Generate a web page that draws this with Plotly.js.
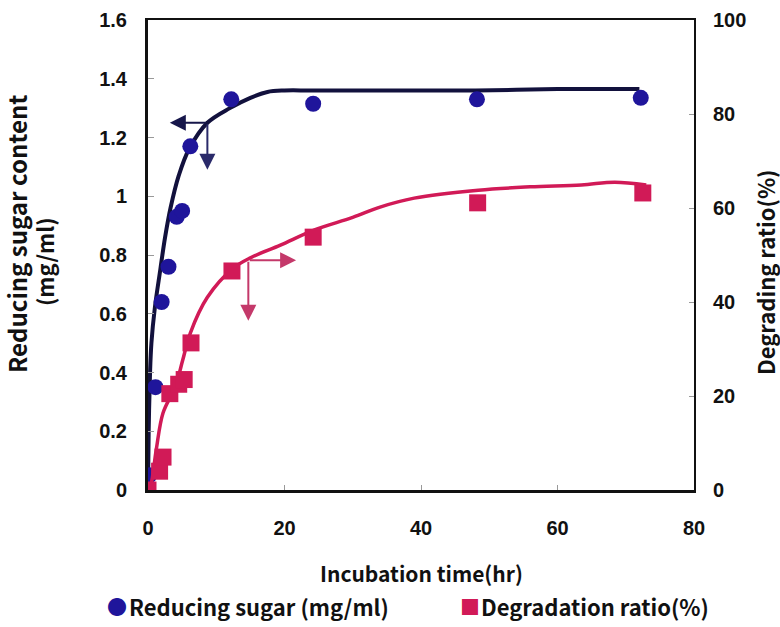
<!DOCTYPE html>
<html>
<head>
<meta charset="utf-8">
<script src="https://cdn.plot.ly/plotly-3.0.1.min.js"></script>
<style>html,body{margin:0;padding:0;background:#fff;}</style>
</head>
<body>
<div id="chart" style="width:780px;height:627px;"></div>
<script>
// Reducing sugar measurements (mg/ml) against incubation time (hr)
const sugarTime  = [0, 0.2, 1.1, 2, 3, 4.2, 5, 6.2, 12.2, 24.2, 48.2, 72.2];
const sugarValue = [0, 0.05, 0.35, 0.64, 0.76, 0.93, 0.95, 1.17, 1.33, 1.315, 1.33, 1.335];

// Fitted curve for reducing sugar
const sugarFitTime  = [0, 0.1, 0.3, 0.5, 1, 1.8, 2.5, 3.3, 4.5, 6, 8.7, 12, 15, 17.5, 20, 24, 36, 48, 60, 72];
const sugarFitValue = [0, 0.2, 0.4, 0.5, 0.62, 0.75, 0.86, 0.96, 1.07, 1.16, 1.25, 1.3, 1.335, 1.355, 1.36, 1.36, 1.36, 1.36, 1.365, 1.365];

// Degradation ratio measurements (%)
const ratioTime  = [0, 1.7, 2.2, 3.2, 4.5, 5.3, 6.3, 12.3, 24.2, 48.3, 72.5];
const ratioValue = [0, 4, 7, 20.5, 22.5, 23.5, 31.3, 46.6, 53.8, 61.1, 63.2];

// Fitted curve for degradation ratio
const ratioFitTime  = [0, 0.4, 1.2, 2.2, 4, 5.1, 6.2, 8.7, 12.5, 15, 19.4, 24.3, 30, 34, 39, 48.4, 56, 63.5, 68.4, 73];
const ratioFitValue = [0, 1, 8.5, 16.4, 22, 27.7, 33.4, 41, 47.2, 49.4, 52.1, 55.3, 58, 60.2, 62.1, 63.8, 64.5, 64.9, 65.5, 64.9];

const xTicks = [0, 20, 40, 60, 80];
const yTicks = [0, 0.2, 0.4, 0.6, 0.8, 1, 1.2, 1.4, 1.6];
const y2Ticks = [0, 20, 40, 60, 80, 100];

const sugarLabel = 'Reducing sugar (mg/ml)';
const ratioLabel = 'Degradation ratio(%)';

const BLUE = '#1f159b';
const NAVY = '#12113d';
const RED = '#d11a57';
const GOTHIC = 'Noto Sans CJK JP, Liberation Sans, sans-serif';
const tickFont = {family: 'Liberation Sans, Arial, sans-serif', size: 20, color: '#111', weight: 700};
const font = (size) => ({family: GOTHIC, size: size, color: '#111', weight: 700});

const traces = [
  {x: ratioFitTime, y: ratioFitValue, yaxis: 'y2', mode: 'lines', showlegend: false,
   line: {color: RED, width: 3.5, shape: 'spline'}, hoverinfo: 'skip'},
  {x: sugarFitTime, y: sugarFitValue, mode: 'lines', showlegend: false,
   line: {color: NAVY, width: 4, shape: 'spline'}, hoverinfo: 'skip'},
  {x: ratioTime, y: ratioValue, yaxis: 'y2', mode: 'markers', name: ratioLabel, showlegend: false,
   marker: {symbol: 'square', size: 17, color: RED}},
  {x: sugarTime, y: sugarValue, mode: 'markers', name: sugarLabel, showlegend: false,
   marker: {symbol: 'circle', size: 16, color: BLUE}}
];

// paper-coordinate helpers for the 780x627 canvas (plot area 148..694 x 20..490)
const px = (v) => (v - 148) / 546;
const py = (v) => (490 - v) / 470;

const layout = {
  width: 780, height: 627,
  margin: {l: 148, r: 86, t: 20, b: 137},
  paper_bgcolor: '#fff', plot_bgcolor: '#fff',
  showlegend: false,
  xaxis: {range: [0, 80], tickvals: xTicks, ticktext: xTicks.map(String),
          showgrid: false, zeroline: false, showline: true, linecolor: '#111', linewidth: 2.5, mirror: true,
          ticks: 'inside', ticklen: 5, tickcolor: '#999', tickfont: tickFont, ticklabelstandoff: 18},
  yaxis: {range: [0, 1.6], tickvals: yTicks, ticktext: yTicks.map(String),
          showgrid: false, zeroline: false, showline: true, linecolor: '#111', linewidth: 3,
          ticks: 'inside', ticklen: 6, tickcolor: '#999', tickfont: tickFont, ticklabelstandoff: 14},
  yaxis2: {range: [0, 100], tickvals: y2Ticks, ticktext: y2Ticks.map(String), overlaying: 'y', side: 'right',
           showgrid: false, zeroline: false, showline: true, linecolor: '#111', linewidth: 2,
           ticks: 'inside', ticklen: 5, tickcolor: '#999', tickfont: tickFont, ticklabelstandoff: 13},
  annotations: [
    // axis titles
    {xref: 'paper', yref: 'paper', x: px(421), y: py(573), text: 'Incubation time(hr)',
     showarrow: false, font: font(21), xanchor: 'center', yanchor: 'middle'},
    {xref: 'paper', yref: 'paper', x: px(16), y: py(234), text: 'Reducing sugar content', textangle: -90,
     showarrow: false, font: font(24), xanchor: 'center', yanchor: 'middle'},
    {xref: 'paper', yref: 'paper', x: px(44), y: py(262), text: '(mg/ml)', textangle: -90,
     showarrow: false, font: font(22), xanchor: 'center', yanchor: 'middle'},
    {xref: 'paper', yref: 'paper', x: px(765), y: py(273), text: 'Degrading ratio(%)', textangle: -90,
     showarrow: false, font: font(22), xanchor: 'center', yanchor: 'middle'},
    // key below the chart
    {xref: 'paper', yref: 'paper', x: px(117), y: py(606), text: '●', showarrow: false,
     font: {family: GOTHIC, size: 20, color: BLUE}, xanchor: 'center', yanchor: 'middle'},
    {xref: 'paper', yref: 'paper', x: px(127), y: py(606), text: sugarLabel, showarrow: false,
     font: font(22), xanchor: 'left', yanchor: 'middle'},
    {xref: 'paper', yref: 'paper', x: px(470), y: py(606), text: '■', showarrow: false,
     font: {family: GOTHIC, size: 20, color: RED}, xanchor: 'center', yanchor: 'middle'},
    {xref: 'paper', yref: 'paper', x: px(479), y: py(606), text: ratioLabel, showarrow: false,
     font: font(22), xanchor: 'left', yanchor: 'middle'},
    // arrows pointing reducing sugar to the left axis
    {x: 3.2, y: 1.25, ax: 8.7, ay: 1.25, xref: 'x', yref: 'y', axref: 'x', ayref: 'y', text: '',
     showarrow: true, arrowhead: 2, arrowsize: 1.6, arrowwidth: 2, arrowcolor: '#16164a'},
    {x: 8.7, y: 1.09, ax: 8.7, ay: 1.25, xref: 'x', yref: 'y', axref: 'x', ayref: 'y', text: '',
     showarrow: true, arrowhead: 2, arrowsize: 1.6, arrowwidth: 2, arrowcolor: '#2a2a6a'},
    // arrows pointing degradation ratio to the right axis
    {x: 21.7, y: 48.9, ax: 14.7, ay: 48.9, xref: 'x', yref: 'y2', axref: 'x', ayref: 'y2', text: '',
     showarrow: true, arrowhead: 2, arrowsize: 1.6, arrowwidth: 2, arrowcolor: '#c4396a'},
    {x: 14.7, y: 36, ax: 14.7, ay: 48.9, xref: 'x', yref: 'y2', axref: 'x', ayref: 'y2', text: '',
     showarrow: true, arrowhead: 2, arrowsize: 1.6, arrowwidth: 2, arrowcolor: '#c4396a'}
  ]
};

Plotly.newPlot('chart', traces, layout, {displayModeBar: false, staticPlot: true});
</script>
</body>
</html>
